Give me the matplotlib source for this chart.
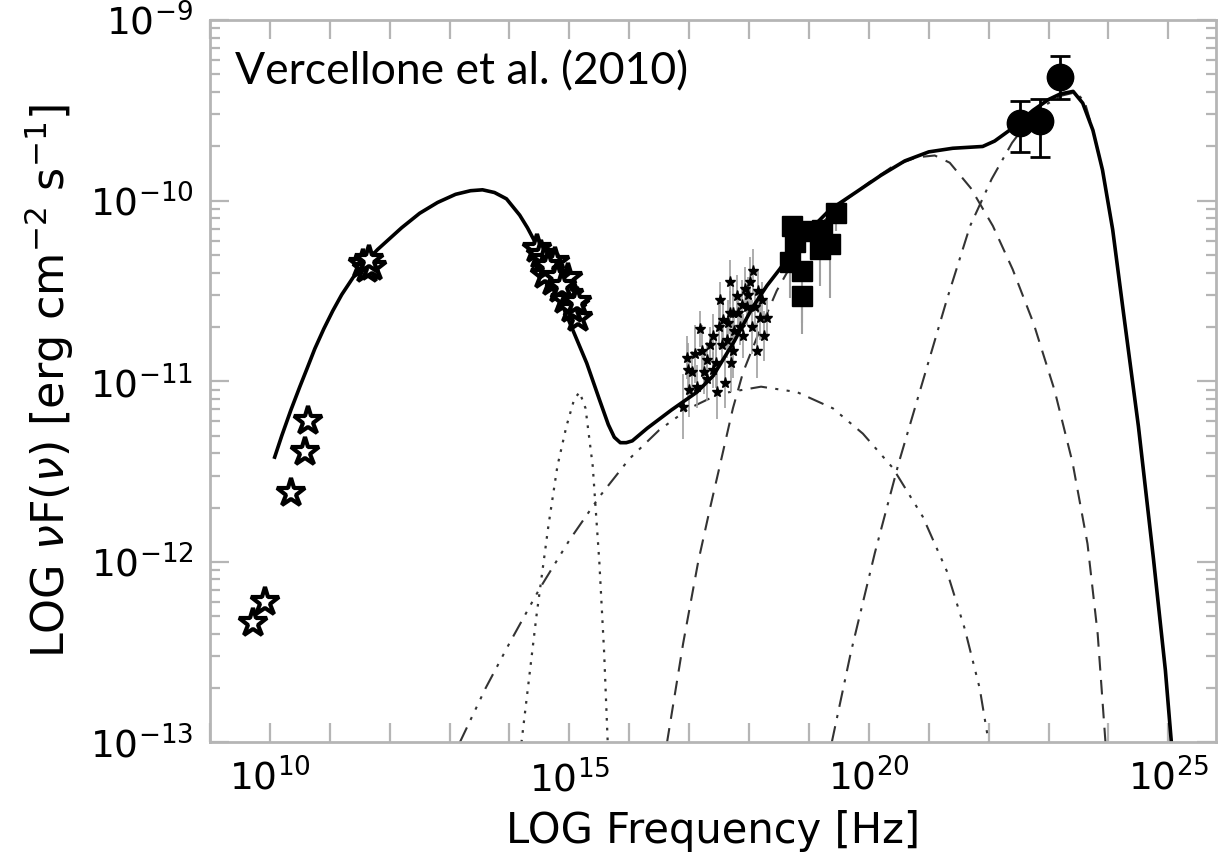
import numpy as np
import matplotlib.pyplot as plt

# all values are log10 (Hz) / log10 (erg cm^-2 s^-1)

# total model (solid)
tot_lx = [10.08, 10.2, 10.35, 10.5, 10.62, 10.75, 10.9, 11.05, 11.2, 11.4, 11.6, 11.8,
          12.0, 12.2, 12.5, 12.8, 13.1, 13.35, 13.55, 13.75, 13.95, 14.17, 14.3, 14.46,
          14.6, 14.8, 14.96, 15.1, 15.29, 15.5, 15.65, 15.75, 15.85, 15.95, 16.05, 16.3,
          16.7, 17.13, 17.4, 17.75, 18.06, 18.3, 18.51, 18.9, 19.35, 19.8, 20.2, 20.6,
          21.0, 21.4, 21.9, 22.1, 22.35, 22.74, 23.0, 23.19, 23.41, 23.57, 23.74, 23.9,
          24.07, 24.25, 24.5, 24.75, 24.95, 25.05]
tot_ly = [-11.42, -11.3, -11.16, -11.03, -10.93, -10.82, -10.71, -10.61, -10.52, -10.42,
          -10.34, -10.27, -10.21, -10.15, -10.07, -10.01, -9.965, -9.945, -9.94, -9.955,
          -9.99, -10.08, -10.15, -10.25, -10.34, -10.51, -10.64, -10.75, -10.9, -11.1,
          -11.24, -11.31, -11.34, -11.34, -11.33, -11.26, -11.16, -11.06, -10.97, -10.78,
          -10.59, -10.47, -10.38, -10.2, -10.05, -9.95, -9.86, -9.78, -9.73, -9.71, -9.7,
          -9.67, -9.61, -9.5, -9.44, -9.41, -9.395, -9.46, -9.61, -9.83, -10.16, -10.62,
          -11.25, -11.98, -12.6, -13.0]

# accretion disk (dotted)
disk_lx = [14.2, 14.45, 14.65, 14.8, 14.95, 15.08, 15.17, 15.27, 15.39, 15.5, 15.58, 15.64]
disk_ly = [-13.0, -12.3, -11.8, -11.47, -11.25, -11.1, -11.06, -11.15, -11.47, -12.0,
           -12.5, -13.0]

# SSC (dash-dot-dot-dot)
ssc_lx = [13.17, 13.6, 14.0, 14.5, 15.0, 15.5, 16.0, 16.5, 17.0, 17.5, 18.2, 18.8,
          19.4, 19.9, 20.4, 20.9, 21.3, 21.6, 21.85, 22.0]
ssc_ly = [-13.0, -12.7, -12.45, -12.15, -11.88, -11.64, -11.43, -11.27, -11.15, -11.07,
          -11.03, -11.06, -11.15, -11.29, -11.48, -11.75, -12.05, -12.37, -12.7, -13.0]

# EC disk (dashed)
ecd_lx = [16.63, 16.9, 17.15, 17.35, 17.51, 17.73, 17.9, 18.2, 18.46, 18.8, 19.2, 19.6,
          20.0, 20.4, 20.8, 21.1, 21.35, 21.7, 22.07, 22.4, 22.75, 23.1, 23.4, 23.65,
          23.82, 23.95]
ecd_ly = [-13.0, -12.45, -12.0, -11.7, -11.47, -11.15, -10.95, -10.7, -10.5, -10.3,
          -10.13, -10.0, -9.9, -9.81, -9.76, -9.75, -9.79, -9.93, -10.14, -10.38,
          -10.68, -11.05, -11.45, -11.9, -12.4, -13.0]

# EC BLR (dash-dot)
ecb_lx = [19.38, 19.7, 20.1, 20.5, 20.9, 21.3, 21.69, 22.05, 22.39, 22.8, 23.2, 23.45,
          23.6, 23.74, 23.9, 24.07, 24.25, 24.5, 24.75, 24.95, 25.05]
ecb_ly = [-13.0, -12.5, -11.95, -11.45, -11.0, -10.55, -10.14, -9.88, -9.68, -9.5,
          -9.42, -9.4, -9.45, -9.61, -9.83, -10.16, -10.62, -11.25, -11.98, -12.6, -13.0]

# radio (open stars)
radio_lx = [9.72, 9.92, 10.35, 10.58, 10.63]
radio_ly = [-12.34, -12.22, -11.62, -11.39, -11.22]

# mm
mm_lx = [11.55, 11.62, 11.7, 11.65]
mm_ly = [-10.35, -10.38, -10.37, -10.33]

# optical / UV
opt_lx = [14.46, 14.52, 14.59, 14.67, 14.72, 14.84, 14.92, 15.0, 15.09, 15.14, 14.97,
          14.76, 14.59, 14.65, 14.8, 14.88, 15.05, 15.12]
opt_ly = [-10.27, -10.3, -10.33, -10.39, -10.45, -10.49, -10.55, -10.52, -10.58, -10.65,
          -10.43, -10.34, -10.41, -10.36, -10.42, -10.47, -10.6, -10.56]

# soft X-rays (small points with error bars)
xrt_lx = [16.96, 16.98, 17.13, 17.18, 17.21, 17.3, 17.4, 17.46, 17.51, 17.56, 17.6,
          17.63, 17.68, 17.73, 17.8, 17.85, 17.93, 17.96, 18.01, 18.06, 18.1, 18.13,
          18.18, 18.3, 17.3, 17.4, 17.73, 17.68, 16.9, 17.0, 17.05, 17.1, 17.25, 17.35,
          17.45, 17.5, 17.55, 17.65, 17.7, 17.75, 17.82, 17.88, 17.9, 17.98, 18.05,
          18.15, 18.22, 18.25]
xrt_ly = [-10.87, -10.94, -11.03, -10.71, -10.83, -10.88, -10.75, -11.06, -10.55,
          -10.66, -11.01, -10.77, -10.62, -10.83, -10.53, -10.7, -10.49, -10.59, -10.45,
          -10.39, -10.59, -10.83, -10.65, -10.65, -10.99, -10.94, -10.62, -10.45, -11.14,
          -11.05, -10.95, -10.85, -10.95, -10.8, -10.9, -10.7, -10.8, -10.68, -10.9,
          -10.72, -10.62, -10.58, -10.75, -10.52, -10.7, -10.5, -10.55, -10.75]
xrt_err = [0.12, 0.15, 0.12, 0.1, 0.14, 0.1, 0.12, 0.15, 0.1, 0.12, 0.14, 0.1, 0.12,
           0.15, 0.12, 0.1, 0.12, 0.1, 0.14, 0.12, 0.1, 0.15, 0.12, 0.1, 0.12, 0.1,
           0.14, 0.12, 0.18, 0.15, 0.12, 0.16, 0.12, 0.1, 0.14, 0.12, 0.1, 0.13, 0.16,
           0.1, 0.12, 0.14, 0.12, 0.1, 0.15, 0.12, 0.1, 0.14]

# hard X-rays (squares)
hx_lx = [18.72, 18.77, 18.68, 18.88, 18.88, 19.19, 19.35, 19.05, 19.22, 19.45]
hx_ly = [-10.14, -10.23, -10.34, -10.39, -10.53, -10.27, -10.24, -10.17, -10.16, -10.07]
hx_err = [0.15, 0.1, 0.2, 0.35, 0.15, 0.2, 0.3, 0.12, 0.12, 0.1]

# gamma rays (circles)
gam_lx = [22.52, 22.85, 23.19]
gam_ly = [-9.568, -9.56, -9.313]
gam_lo = [-9.73, -9.76, -9.44]
gam_hi = [-9.45, -9.44, -9.2]


def p(a):
    return 10 ** np.asarray(a, dtype=float)


fig = plt.figure(figsize=(12.18, 8.67), dpi=100)
ax = fig.add_axes([0.1724, 0.1436, 0.8262, 0.8333])

ax.plot(p(disk_lx), p(disk_ly), color='#333333', lw=1.6, ls=(0, (1.2, 3.2)))
ax.plot(p(ssc_lx), p(ssc_ly), color='#333333', lw=1.5,
        ls=(0, (8, 4, 1.5, 4, 1.5, 4, 1.5, 4)))
ax.plot(p(ecd_lx), p(ecd_ly), color='#333333', lw=1.5, ls=(0, (7, 4.5)))
ax.plot(p(ecb_lx), p(ecb_ly), color='#333333', lw=1.5, ls=(0, (8, 4, 1.5, 4)))

# data
xy = p(xrt_ly)
ax.errorbar(p(xrt_lx), xy, yerr=[xy - p(np.array(xrt_ly) - np.array(xrt_err)),
                                 p(np.array(xrt_ly) + np.array(xrt_err)) - xy],
            fmt='*', ms=8, color='black', ecolor='#a0a0a0', elinewidth=1.2)
hy = p(hx_ly)
ax.errorbar(p(hx_lx), hy, yerr=[hy - p(np.array(hx_ly) - np.array(hx_err)),
                                np.zeros(len(hy))],
            fmt='s', ms=14, color='black', ecolor='#a0a0a0', elinewidth=1.5)
gy = p(gam_ly)
ax.errorbar(p(gam_lx), gy, yerr=[gy - p(gam_lo), p(gam_hi) - gy], fmt='o', ms=19,
            color='black', ecolor='black', elinewidth=2, capsize=7, capthick=2)

ax.plot(p(tot_lx), p(tot_ly), color='black', lw=2.6)

star = dict(marker='*', ls='none', ms=21, mfc='white', mec='black', mew=3)
ax.plot(p(radio_lx), p(radio_ly), **star)
ax.plot(p(mm_lx), p(mm_ly), **star)
ax.plot(p(opt_lx), p(opt_ly), **star)

ax.set_xscale('log')
ax.set_yscale('log')
ax.set_xlim(1e9, 10 ** 25.8)
ax.set_ylim(1e-13, 1e-9)

ax.set_xticks([1e10, 1e15, 1e20, 1e25])
ax.set_xticklabels([r'$10^{10}$', r'$10^{15}$', r'$10^{20}$', r'$10^{25}$'])
ax.set_xticks([10.0 ** k for k in range(9, 26) if k % 5], minor=True)
ax.set_yticks([1e-13, 1e-12, 1e-11, 1e-10, 1e-9])
ax.set_yticklabels([r'$10^{-13}$', r'$10^{-12}$', r'$10^{-11}$', r'$10^{-10}$',
                    r'$10^{-9}$'])
ax.set_yticks([m * 10.0 ** k for k in range(-13, -9) for m in range(2, 10)], minor=True)
ax.yaxis.set_minor_formatter(plt.NullFormatter())
ax.xaxis.set_minor_formatter(plt.NullFormatter())

for s in ax.spines.values():
    s.set_color('#b5b5b5')
    s.set_linewidth(2)
ax.tick_params(which='both', direction='in', top=True, right=True, color='#b5b5b5',
               width=1.6, labelsize=27, pad=12)
ax.tick_params(axis='x', which='both', length=14)
ax.tick_params(axis='y', which='major', length=14)
ax.tick_params(axis='y', which='minor', length=7)

ax.set_xlabel('LOG Frequency [Hz]', labelpad=8, fontsize=30)
ax.set_ylabel(r'LOG $\nu$F($\nu$) [erg cm$^{-2}$ s$^{-1}$]', labelpad=10, fontsize=32)

ax.text(0.025, 0.928, 'Vercellone et al. (2010)', transform=ax.transAxes,
        ha='left', va='center', fontsize=32, family=['Lato', 'DejaVu Sans'])

fig.savefig('out.png', dpi=100)
